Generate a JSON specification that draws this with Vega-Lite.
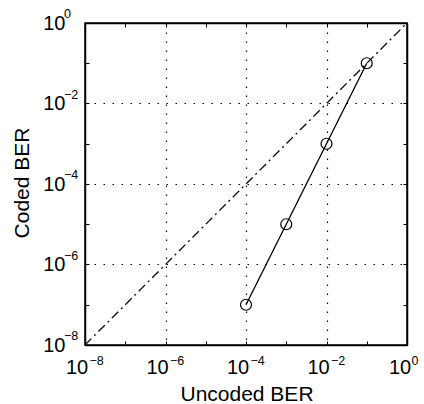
{
  "$schema": "https://vega.github.io/schema/vega-lite/v6.json",
  "autosize": {"type": "none"},
  "padding": {"left": 85, "top": 23, "right": 17, "bottom": 59},
  "width": 322,
  "height": 322,
  "background": "white",
  "config": {
    "view": {"stroke": "black", "strokeWidth": 1.5},
    "font": "Liberation Sans",
    "text": {"font": "Liberation Sans", "color": "black"},
    "axis": {
      "labelFont": "Liberation Sans",
      "titleFont": "Liberation Sans",
      "labelFontSize": 20,
      "titleFontSize": 21,
      "titleFontWeight": "normal",
      "labelColor": "black",
      "titleColor": "black",
      "domainColor": "black",
      "domainWidth": 1.5,
      "tickColor": "black",
      "tickSize": -4,
      "tickWidth": 1,
      "gridColor": "black",
      "gridDash": [1.5, 7.5],
      "gridWidth": 1.2,
      "labelFlush": false
    }
  },
  "datasets": {
    "ref": [{"u": 1e-8, "c": 1e-8}, {"u": 1, "c": 1}],
    "coded": [
      {"u": 1e-4, "c": 1e-7},
      {"u": 1e-3, "c": 1e-5},
      {"u": 1e-2, "c": 1e-3},
      {"u": 1e-1, "c": 1e-1}
    ],
    "expo": [
      {"v": 1e-8, "e": "−8"},
      {"v": 1e-6, "e": "−6"},
      {"v": 1e-4, "e": "−4"},
      {"v": 1e-2, "e": "−2"},
      {"v": 1, "e": "0"}
    ]
  },
  "layer": [
    {
      "data": {"name": "ref"},
      "mark": {"type": "line", "color": "black", "strokeWidth": 1.3, "strokeDash": [9, 4, 2, 4]},
      "encoding": {
        "x": {
          "field": "u", "type": "quantitative",
          "scale": {"type": "log", "domain": [1e-8, 1], "nice": false},
          "axis": {
            "orient": "bottom",
            "title": "Uncoded BER",
            "titleX": 161.5,
            "titleY": 55,
            "titleBaseline": "alphabetic",
            "titleAlign": "center",
            "values": [1e-8, 1e-7, 1e-6, 1e-5, 1e-4, 1e-3, 1e-2, 1e-1, 1],
            "labelPadding": 32,
            "labelBaseline": "alphabetic",
            "labelFlush": false,
            "labelOverlap": false,
            "labelOffset": {"condition": {"test": "datum.value > 0.5", "value": -7.5}, "value": -8.5},
            "labelExpr": "round(log(datum.value)/LN10) % 2 == 0 ? '10' : ''",
            "grid": true,
            "gridOpacity": {"condition": {"test": "round(log(datum.value)/LN10) % 2 == 0 && datum.value < 0.5 && datum.value > 2e-8", "value": 1}, "value": 0}
          }
        },
        "y": {
          "field": "c", "type": "quantitative",
          "scale": {"type": "log", "domain": [1e-8, 1], "nice": false},
          "axis": {
            "orient": "left",
            "title": "Coded BER",
            "titleX": -57,
            "titleY": 159.5,
            "titleBaseline": "alphabetic",
            "titleAlign": "center",
            "values": [1e-8, 1e-7, 1e-6, 1e-5, 1e-4, 1e-3, 1e-2, 1e-1, 1],
            "labelPadding": 24,
            "labelBaseline": "middle",
            "labelFlush": false,
            "labelOverlap": false,
            "labelExpr": "round(log(datum.value)/LN10) % 2 == 0 ? '10' : ''",
            "grid": true,
            "gridOpacity": {"condition": {"test": "round(log(datum.value)/LN10) % 2 == 0 && datum.value < 0.5 && datum.value > 2e-8", "value": 1}, "value": 0}
          }
        }
      }
    },
    {
      "data": {"name": "coded"},
      "mark": {"type": "line", "color": "black", "strokeWidth": 1.3, "point": {"shape": "circle", "filled": false, "size": 120, "stroke": "black", "strokeWidth": 1.2}},
      "encoding": {
        "x": {
          "field": "u", "type": "quantitative",
          "scale": {"type": "log", "domain": [1e-8, 1], "nice": false},
          "axis": {
            "orient": "top", "title": null, "labels": false, "grid": false,
            "values": [1e-8, 1e-7, 1e-6, 1e-5, 1e-4, 1e-3, 1e-2, 1e-1, 1]
          }
        },
        "y": {
          "field": "c", "type": "quantitative",
          "scale": {"type": "log", "domain": [1e-8, 1], "nice": false},
          "axis": {
            "orient": "right", "title": null, "labels": false, "grid": false,
            "values": [1e-8, 1e-7, 1e-6, 1e-5, 1e-4, 1e-3, 1e-2, 1e-1, 1]
          }
        }
      }
    },
    {
      "data": {"name": "expo"},
      "mark": {"type": "text", "fontSize": 12.5, "align": "left", "baseline": "alphabetic", "dx": 4.5, "dy": 20, "clip": false},
      "encoding": {
        "x": {"field": "v", "type": "quantitative", "axis": null},
        "y": {"datum": 1e-8, "type": "quantitative", "axis": null},
        "text": {"field": "e"}
      }
    },
    {
      "data": {"name": "expo"},
      "mark": {"type": "text", "fontSize": 12.5, "align": "left", "baseline": "alphabetic", "dx": -21, "dy": -5, "clip": false},
      "encoding": {
        "x": {"datum": 1e-8, "type": "quantitative", "axis": null},
        "y": {"field": "v", "type": "quantitative", "axis": null},
        "text": {"field": "e"}
      }
    }
  ],
  "resolve": {"axis": {"x": "independent", "y": "independent"}}
}
